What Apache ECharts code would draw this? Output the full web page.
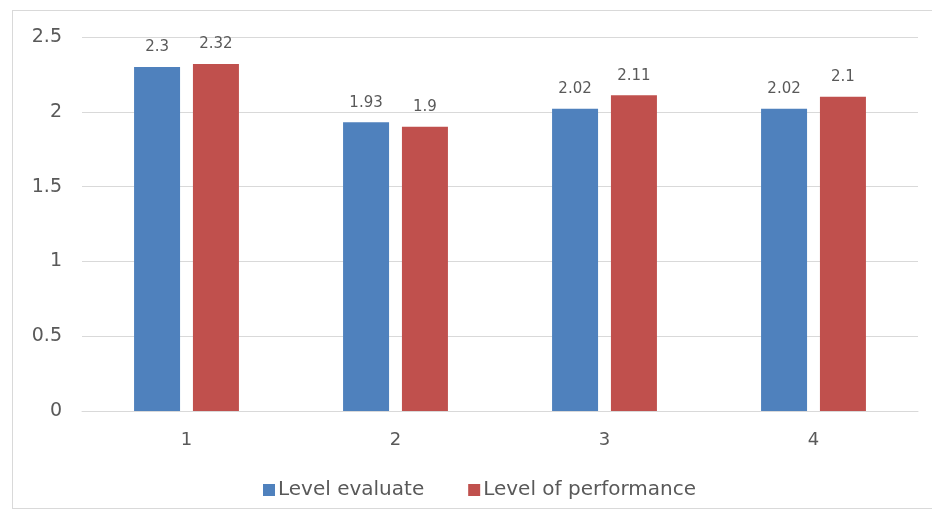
<!DOCTYPE html>
<html>
<head>
<meta charset="utf-8">
<script src="https://cdn.jsdelivr.net/npm/echarts@6/dist/echarts.min.js"></script>
<style>
  html, body { margin: 0; padding: 0; background: #ffffff; }
  #frame { position: absolute; left: 12px; top: 10px; width: 930px; height: 499px;
           border: 1px solid #d9d9d9; box-sizing: border-box; }
  #chart { position: absolute; left: 0; top: 0; width: 932px; height: 512px; }
</style>
</head>
<body>
<div id="frame"></div>
<div id="chart"></div>
<script>
// Categories and series values
const categories = ['1', '2', '3', '4'];
const levelEvaluate = [2.3, 1.93, 2.02, 2.02];
const levelPerformance = [2.32, 1.9, 2.11, 2.1];
const seriesNames = ['Level evaluate', 'Level of performance'];

const FONT = 'DejaVu Sans';
const chart = echarts.init(document.getElementById('chart'), null, { renderer: 'canvas' });

const labelStyle = {
  show: true,
  position: 'top',
  distance: 12,
  color: '#595959',
  fontSize: 15,
  fontFamily: FONT
};

chart.setOption({
  animation: false,
  textStyle: { fontFamily: FONT },
  grid: { left: 82, right: 14, top: 37, bottom: 101, containLabel: false },
  legend: {
    top: 475,
    left: 258,
    itemWidth: 12,
    itemHeight: 12,
    itemGap: 44,
    icon: 'rect',
    textStyle: { color: '#595959', fontSize: 20, fontFamily: FONT, padding: [0, 0, 0, -2] },
    data: seriesNames
  },
  xAxis: {
    type: 'category',
    data: categories,
    axisLine: { show: true, lineStyle: { color: '#d9d9d9' } },
    axisTick: { show: false },
    axisLabel: { color: '#595959', fontSize: 18, margin: 20 }
  },
  yAxis: {
    type: 'value',
    min: 0,
    max: 2.5,
    interval: 0.5,
    axisLine: { show: false },
    axisTick: { show: false },
    splitLine: { lineStyle: { color: '#d9d9d9' } },
    axisLabel: { color: '#595959', fontSize: 19, margin: 20 }
  },
  series: [
    {
      name: seriesNames[0],
      type: 'bar',
      data: levelEvaluate,
      barWidth: 46,
      barGap: '28%',
      itemStyle: { color: '#4f81bd' },
      label: labelStyle
    },
    {
      name: seriesNames[1],
      type: 'bar',
      data: levelPerformance,
      barWidth: 46,
      itemStyle: { color: '#c0504d' },
      label: labelStyle
    }
  ]
});
</script>
</body>
</html>
